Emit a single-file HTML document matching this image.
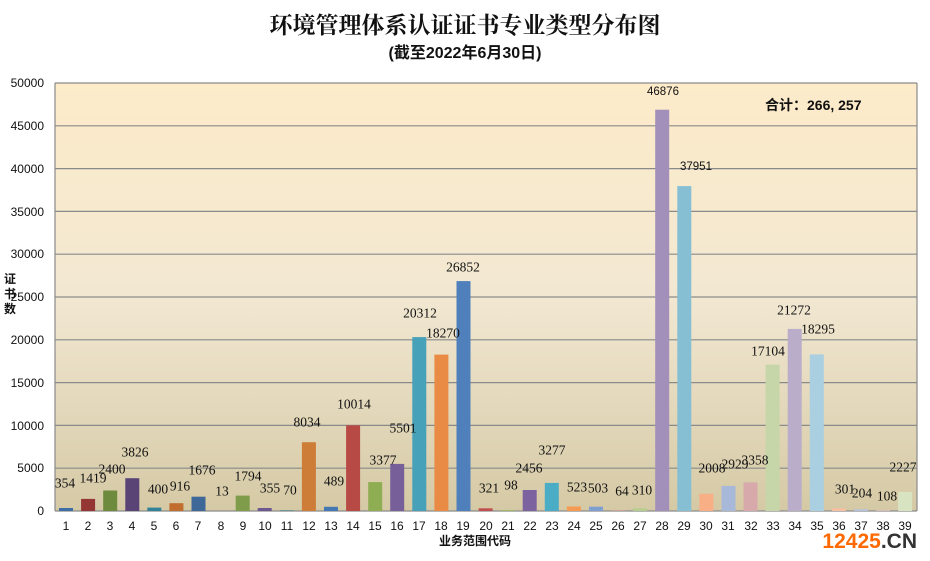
<!DOCTYPE html>
<html><head><meta charset="utf-8"><style>
body{margin:0;background:#fff;}
svg{display:block;font-family:"Liberation Sans","Noto Sans CJK SC",sans-serif;}
</style></head><body>
<svg width="930" height="561" viewBox="0 0 930 561" xmlns="http://www.w3.org/2000/svg">
<defs>
<linearGradient id="bg" x1="0" y1="0" x2="0" y2="1">
<stop offset="0" stop-color="#fdebc9"/>
<stop offset="0.5" stop-color="#f2e8d2"/>
<stop offset="1" stop-color="#d5c9a5"/>
</linearGradient>
</defs>
<text x="465" y="33" text-anchor="middle" font-size="23" font-family="'Noto Serif CJK SC','Noto Sans CJK SC',serif" font-weight="bold" fill="#111">环境管理体系认证证书专业类型分布图</text>
<text x="465" y="58" text-anchor="middle" font-size="16" font-weight="bold" fill="#111">(截至2022年6月30日)</text>
<rect x="55" y="83" width="862" height="428" fill="url(#bg)"/>
<g stroke="#8a8a8a" stroke-width="1.2">
<line x1="55" y1="83" x2="917" y2="83"/><line x1="55" y1="125.8" x2="917" y2="125.8"/>
<line x1="55" y1="168.6" x2="917" y2="168.6"/><line x1="55" y1="211.4" x2="917" y2="211.4"/>
<line x1="55" y1="254.2" x2="917" y2="254.2"/><line x1="55" y1="297" x2="917" y2="297"/>
<line x1="55" y1="339.8" x2="917" y2="339.8"/><line x1="55" y1="382.6" x2="917" y2="382.6"/>
<line x1="55" y1="425.4" x2="917" y2="425.4"/><line x1="55" y1="468.2" x2="917" y2="468.2"/>
<line x1="55" y1="511" x2="917" y2="511"/>
<line x1="55" y1="83" x2="55" y2="511"/><line x1="917" y1="83" x2="917" y2="511"/>
</g>
<g font-size="12" fill="#111" text-anchor="end">
<text x="44" y="87">50000</text><text x="44" y="130">45000</text><text x="44" y="173">40000</text>
<text x="44" y="216">35000</text><text x="44" y="258">30000</text><text x="44" y="301">25000</text>
<text x="44" y="344">20000</text><text x="44" y="387">15000</text><text x="44" y="430">10000</text>
<text x="44" y="472">5000</text><text x="44" y="515">0</text>
</g>
<g font-size="12" font-weight="bold" fill="#111" text-anchor="middle">
<text x="10" y="283">证</text><text x="10" y="298">书</text><text x="10" y="313">数</text>
</g>
<g>
<rect x="59" y="508" width="14" height="3" fill="#3e6ea3"/>
<rect x="81.1" y="498.9" width="14" height="12.1" fill="#943634"/>
<rect x="103.2" y="490.5" width="14" height="20.5" fill="#6e8a3c"/>
<rect x="125.3" y="478.2" width="14" height="32.8" fill="#5a4476"/>
<rect x="147.3" y="507.6" width="14" height="3.4" fill="#2f8297"/>
<rect x="169.4" y="503.2" width="14" height="7.8" fill="#c06d2d"/>
<rect x="191.5" y="496.7" width="14" height="14.3" fill="#3d6898"/>
<rect x="235.7" y="495.6" width="14" height="15.4" fill="#7e9c49"/>
<rect x="257.7" y="508" width="14" height="3" fill="#6e5690"/>
<rect x="279.8" y="510.4" width="14" height="0.6" fill="#3a7f8f"/>
<rect x="301.9" y="442.2" width="14" height="68.8" fill="#cd7d38"/>
<rect x="324" y="506.8" width="14" height="4.2" fill="#4577b3"/>
<rect x="346.1" y="425.3" width="14" height="85.7" fill="#b84a46"/>
<rect x="368.2" y="482.1" width="14" height="28.9" fill="#8fad52"/>
<rect x="390.2" y="463.9" width="14" height="47.1" fill="#77609a"/>
<rect x="412.3" y="337.1" width="14" height="173.9" fill="#47a1b8"/>
<rect x="434.4" y="354.6" width="14" height="156.4" fill="#e98b45"/>
<rect x="456.5" y="281.1" width="14" height="229.9" fill="#4f80bb"/>
<rect x="478.6" y="508.3" width="14" height="2.7" fill="#c0504d"/>
<rect x="500.6" y="510.2" width="14" height="0.8" fill="#9bbb59"/>
<rect x="522.7" y="490" width="14" height="21" fill="#7d62a0"/>
<rect x="544.8" y="482.9" width="14" height="28.1" fill="#4bacc6"/>
<rect x="566.9" y="506.5" width="14" height="4.5" fill="#f59a52"/>
<rect x="589" y="506.7" width="14" height="4.3" fill="#7f9fd0"/>
<rect x="611.1" y="510.5" width="14" height="0.5" fill="#d08f8d"/>
<rect x="633.1" y="508.3" width="14" height="2.7" fill="#b5cc8d"/>
<rect x="655.2" y="109.7" width="14" height="401.3" fill="#a290ba"/>
<rect x="677.3" y="186.1" width="14" height="324.9" fill="#86bfd3"/>
<rect x="699.4" y="493.8" width="14" height="17.2" fill="#f8af85"/>
<rect x="721.5" y="485.9" width="14" height="25.1" fill="#a8b8d8"/>
<rect x="743.5" y="482.3" width="14" height="28.7" fill="#d8a9aa"/>
<rect x="765.6" y="364.6" width="14" height="146.4" fill="#c6d6a8"/>
<rect x="787.7" y="328.9" width="14" height="182.1" fill="#b9adca"/>
<rect x="809.8" y="354.4" width="14" height="156.6" fill="#a9cfe0"/>
<rect x="831.9" y="508.4" width="14" height="2.6" fill="#f8bfa3"/>
<rect x="854" y="509.3" width="14" height="1.7" fill="#b3c0df"/>
<rect x="876" y="510.1" width="14" height="0.9" fill="#dcbcbc"/>
<rect x="898.1" y="491.9" width="14" height="19.1" fill="#d8e3c2"/>
</g>
<g font-size="13.5" fill="#111" text-anchor="middle" font-family="'Liberation Serif',serif" dominant-baseline="central">
<text x="65" y="483">354</text><text x="93" y="478">1419</text><text x="112" y="469">2400</text>
<text x="135" y="452">3826</text><text x="158" y="489">400</text><text x="180" y="486">916</text>
<text x="202" y="470">1676</text><text x="222" y="491">13</text><text x="248" y="476">1794</text>
<text x="270" y="488">355</text><text x="290" y="490">70</text><text x="307" y="422">8034</text>
<text x="334" y="481">489</text><text x="354" y="404">10014</text><text x="383" y="460">3377</text>
<text x="403" y="428">5501</text><text x="420" y="313">20312</text><text x="443" y="333">18270</text>
<text x="463" y="267">26852</text><text x="489" y="488">321</text><text x="511" y="485">98</text>
<text x="529" y="468">2456</text><text x="552" y="450">3277</text><text x="577" y="487">523</text>
<text x="598" y="488">503</text><text x="622" y="491">64</text><text x="642" y="490">310</text>
<text x="663" y="92" font-size="11.5" font-family="'Liberation Sans',sans-serif">46876</text><text x="696" y="167" font-size="11.5" font-family="'Liberation Sans',sans-serif">37951</text><text x="712" y="468">2008</text>
<text x="735" y="464">2929</text><text x="755" y="460">3358</text><text x="768" y="351">17104</text>
<text x="794" y="310">21272</text><text x="818" y="329">18295</text><text x="845" y="489">301</text>
<text x="862" y="493">204</text><text x="887" y="496">108</text><text x="903" y="467">2227</text>
</g>
<text x="765" y="110" font-size="14" font-weight="bold" fill="#111">合计：266, 257</text>
<g font-size="12" fill="#111" text-anchor="middle">
<text x="66" y="530">1</text><text x="88" y="530">2</text><text x="110" y="530">3</text><text x="132" y="530">4</text>
<text x="154" y="530">5</text><text x="176" y="530">6</text><text x="198" y="530">7</text><text x="221" y="530">8</text>
<text x="243" y="530">9</text><text x="265" y="530">10</text><text x="287" y="530">11</text><text x="309" y="530">12</text>
<text x="331" y="530">13</text><text x="353" y="530">14</text><text x="375" y="530">15</text><text x="397" y="530">16</text>
<text x="419" y="530">17</text><text x="441" y="530">18</text><text x="463" y="530">19</text><text x="486" y="530">20</text>
<text x="508" y="530">21</text><text x="530" y="530">22</text><text x="552" y="530">23</text><text x="574" y="530">24</text>
<text x="596" y="530">25</text><text x="618" y="530">26</text><text x="640" y="530">27</text><text x="662" y="530">28</text>
<text x="684" y="530">29</text><text x="706" y="530">30</text><text x="728" y="530">31</text><text x="751" y="530">32</text>
<text x="773" y="530">33</text><text x="795" y="530">34</text><text x="817" y="530">35</text><text x="839" y="530">36</text>
<text x="861" y="530">37</text><text x="883" y="530">38</text><text x="905" y="530">39</text>
</g>
<text x="475" y="545" text-anchor="middle" font-size="12" font-weight="bold" fill="#111">业务范围代码</text>
<text x="917" y="548" text-anchor="end" font-size="21" font-weight="bold"><tspan fill="#ff6a00">12425</tspan><tspan fill="#333">.CN</tspan></text>
</svg>
</body></html>
